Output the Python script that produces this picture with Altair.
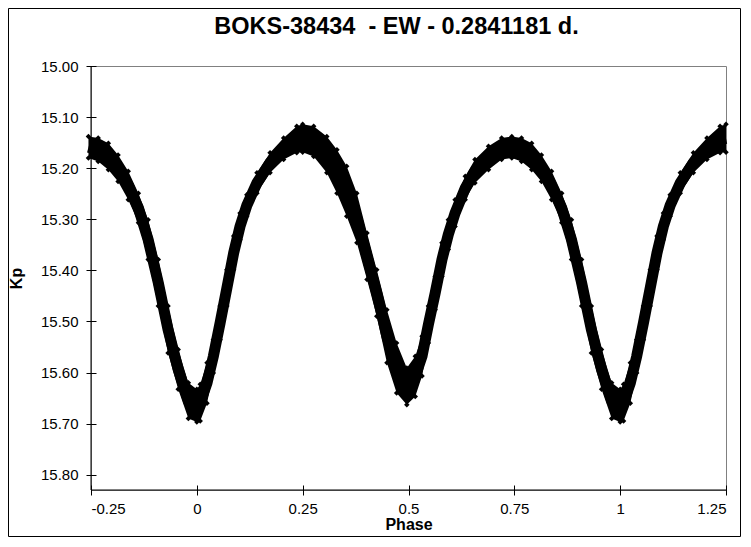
import altair as alt
import pandas as pd

# ---- data (one cycle, phase 0..1) ----
cycle_phase = [0.000, 0.008, 0.024, 0.039, 0.055, 0.071, 0.087, 0.102, 0.118, 0.142,
               0.173, 0.205, 0.236, 0.250, 0.276, 0.307, 0.331, 0.354, 0.378, 0.402,
               0.425, 0.449, 0.472, 0.496, 0.516, 0.532, 0.547, 0.563, 0.579, 0.594,
               0.610, 0.634, 0.657, 0.689, 0.720, 0.744, 0.767, 0.791, 0.814, 0.838,
               0.862, 0.885, 0.909, 0.932, 0.956, 0.980]
mag_bright = [15.633, 15.623, 15.581, 15.536, 15.470, 15.399, 15.333, 15.288, 15.252, 15.209,
              15.170, 15.141, 15.118, 15.114, 15.118, 15.138, 15.164, 15.196, 15.249, 15.327,
              15.399, 15.477, 15.542, 15.591, 15.568, 15.529, 15.470, 15.412, 15.346, 15.301,
              15.262, 15.216, 15.183, 15.157, 15.141, 15.138, 15.141, 15.151, 15.174, 15.206,
              15.249, 15.301, 15.379, 15.470, 15.555, 15.620]
mag_faint = [15.697, 15.695, 15.660, 15.601, 15.536, 15.470, 15.399, 15.340, 15.294, 15.249,
             15.209, 15.183, 15.170, 15.169, 15.177, 15.209, 15.249, 15.294, 15.346, 15.418,
             15.490, 15.581, 15.640, 15.663, 15.647, 15.607, 15.542, 15.477, 15.412, 15.359,
             15.314, 15.262, 15.229, 15.203, 15.183, 15.180, 15.187, 15.203, 15.226, 15.262,
             15.307, 15.379, 15.470, 15.562, 15.633, 15.690]

x_ticks = [-0.25, 0, 0.25, 0.5, 0.75, 1, 1.25]
y_ticks = [15.00, 15.10, 15.20, 15.30, 15.40, 15.50, 15.60, 15.70, 15.80]
title_text = "BOKS-38434\u00a0 - EW - 0.2841181 d."

# phase-folded table: the same cycle shown over -0.25 .. 1.25
rows = []
for shift in (-1, 0, 1):
    for p, t, b in zip(cycle_phase, mag_bright, mag_faint):
        ph = round(p + shift, 4)
        if -0.257 <= ph <= 1.251:
            rows.append({"phase": ph, "top": t, "bottom": b, "mid": (t + b) / 2})
df = pd.DataFrame(rows).sort_values("phase").reset_index(drop=True)

W, H = 635, 424
FONT = "Liberation Sans"

xs = alt.Scale(domain=[-0.25, 1.25], nice=False, zero=False)
ys = alt.Scale(domain=[15.0, 15.83], reverse=True, nice=False, zero=False)

x_axis = alt.Axis(
    title="Phase", values=x_ticks,
    labelExpr="datum.value < 0 ? '-' + format(-datum.value, '~g') : format(datum.value, '~g')",
    domain=False, grid=False, ticks=True, tickSize=10, offset=-5, tickColor="black",
    labelFont=FONT, labelFontSize=15, labelColor="black", labelPadding=6,
    titleFont=FONT, titleFontSize=16, titleFontWeight="bold", titleColor="black",
    titleX=W / 2, titleY=44, titleBaseline="alphabetic", titleAlign="center",
)
y_axis = alt.Axis(
    title="Kp", values=y_ticks, format=".2f",
    domain=False, grid=False, ticks=True, tickSize=10, offset=-5, tickColor="black",
    labelFont=FONT, labelFontSize=15, labelColor="black", labelPadding=8,
    titleFont=FONT, titleFontSize=16, titleFontWeight="bold", titleColor="black",
    titleX=-80, titleY=H / 2, titleAngle=270, titleBaseline="middle", titleAlign="center",
)

base = alt.Chart(df)
band = base.mark_area(color="black", fillOpacity=1, interpolate="linear").encode(
    x=alt.X("phase:Q", scale=xs, axis=x_axis),
    y=alt.Y("top:Q", scale=ys, axis=y_axis),
    y2=alt.Y2("bottom:Q"),
)
core = base.mark_line(color="black", strokeWidth=11, strokeCap="butt").encode(
    x=alt.X("phase:Q", scale=xs), y=alt.Y("mid:Q", scale=ys), order="phase:Q"
)
pts_top = base.mark_point(shape="diamond", filled=True, color="black", size=30, opacity=1).encode(
    x=alt.X("phase:Q", scale=xs), y=alt.Y("top:Q", scale=ys)
)
pts_bot = base.mark_point(shape="diamond", filled=True, color="black", size=30, opacity=1).encode(
    x=alt.X("phase:Q", scale=xs), y=alt.Y("bottom:Q", scale=ys)
)

one = alt.Chart(pd.DataFrame({"a": [0]}))
left_line = one.mark_rule(color="black", strokeWidth=1).encode(
    x=alt.value(0), y=alt.value(0), y2=alt.value(H)
)
bottom_line = one.mark_rule(color="black", strokeWidth=1).encode(
    x=alt.value(0), x2=alt.value(W), y=alt.value(H)
)
frame = one.mark_rect(fillOpacity=0, stroke="black", strokeWidth=1).encode(
    x=alt.value(-82.5), x2=alt.value(W + 14.5), y=alt.value(-57.5), y2=alt.value(H + 46.5)
)
title = one.mark_text(font=FONT, fontSize=23.5, fontWeight="bold", color="black",
                      align="center", baseline="alphabetic").encode(
    text=alt.value(title_text), x=alt.value(W / 2 - 12), y=alt.value(-32)
)

chart = alt.layer(band, core, pts_top, pts_bot, left_line, bottom_line, frame, title).properties(
    width=W, height=H,
    autosize=alt.AutoSizeParams(type="none"),
    padding={"left": 83, "top": 58, "right": 15, "bottom": 47},
    background="white",
).configure_view(stroke="#808080", strokeWidth=1)

chart.save("out.html", embed_options={"renderer": "svg", "actions": False})
